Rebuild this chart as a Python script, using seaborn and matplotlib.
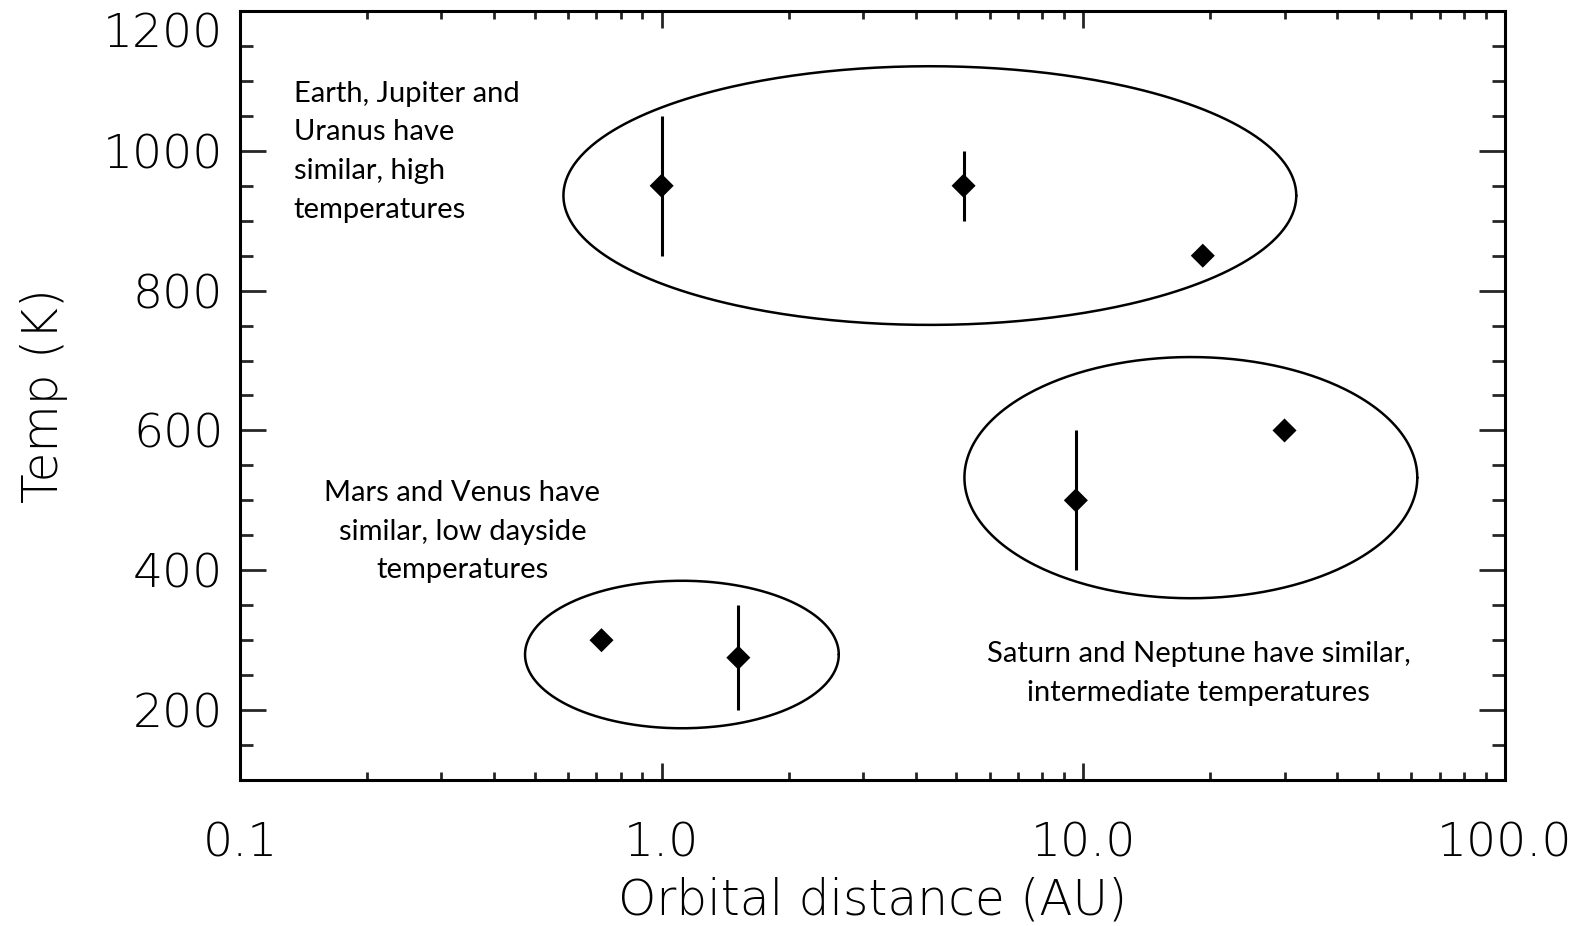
import numpy as np
import matplotlib
matplotlib.use("Agg")
import matplotlib.pyplot as plt
import matplotlib.transforms as mtransforms
import seaborn as sns
import pandas as pd
from matplotlib.ticker import FixedLocator, NullFormatter

# ---------------- data ----------------
planets = ["Venus", "Mars", "Earth", "Jupiter", "Uranus", "Saturn", "Neptune"]
orbital_au = [0.72, 1.52, 1.0, 5.2, 19.2, 9.6, 30.0]
temp_k = [300, 275, 950, 950, 850, 500, 600]
temp_err = [0, 75, 100, 50, 0, 100, 0]

# ellipses: (centre log10 AU, half-width in log10 AU, centre K, half-height K)
ell_logx_c = [0.636, 0.048, 1.255]
ell_logx_r = [0.869, 0.372, 0.537]
ell_y_c = [936, 279.5, 532.5]
ell_y_r = [185, 105.5, 172.5]

notes = [
    "Earth, Jupiter and\nUranus have\nsimilar, high\ntemperatures",
    "Mars and Venus have\nsimilar, low dayside\ntemperatures",
    "Saturn and Neptune have similar,\nintermediate temperatures",
]
note_x = [0.134, 0.337, 18.8]
note_y = [1070, 499, 268.6]
note_ha = ["left", "center", "center"]

xticks = [0.1, 1.0, 10.0, 100.0]
xticklabels = ["0.1", "1.0", "10.0", "100.0"]
yticks = [200, 400, 600, 800, 1000, 1200]
yticklabels = ["200", "400", "600", "800", "1000", "1200"]

# ---------------- style ----------------
sns.set_theme(style="white")
plt.rcParams["font.family"] = ["DejaVu Sans"]

fig = plt.figure(figsize=(15.92, 9.26), dpi=100)
ax = fig.add_axes([240 / 1592, 1 - 780 / 926, 1265 / 1592, 769 / 926])

df = pd.DataFrame({"planet": planets, "au": orbital_au, "temp": temp_k, "err": temp_err})

# error bars
has_err = df[df["err"] > 0]
ax.errorbar(has_err["au"], has_err["temp"], yerr=has_err["err"], fmt="none",
            ecolor="black", elinewidth=2.2, capsize=0, zorder=2)

sns.scatterplot(data=df, x="au", y="temp", marker="D", s=150, color="black",
                edgecolor="none", linewidth=0, ax=ax, zorder=3, legend=False)

# ellipses
t = np.linspace(0, 2 * np.pi, 400)
for cx, rx, cy, ry in zip(ell_logx_c, ell_logx_r, ell_y_c, ell_y_r):
    ax.plot(10 ** (cx + rx * np.cos(t)), cy + ry * np.sin(t), color="black", lw=1.8, zorder=1)

# annotations
pitch_pt = 27.8
for txt, x, y, ha in zip(notes, note_x, note_y, note_ha):
    for i, line in enumerate(txt.split("\n")):
        ax.annotate(line, xy=(x, y), xytext=(0, -i * pitch_pt), textcoords="offset points",
                    ha=ha, va="baseline", fontsize=21, family="Lato", color="black")

ax.set_xscale("log")
ax.set_xlim(0.1, 100)
ax.set_ylim(100, 1200)

ax.xaxis.set_major_locator(FixedLocator(xticks))
ax.set_xticklabels(xticklabels)
minor_x = [m * 10.0 ** e for e in (-1, 0, 1) for m in range(2, 10)]
ax.xaxis.set_minor_locator(FixedLocator(minor_x))
ax.xaxis.set_minor_formatter(NullFormatter())
ax.yaxis.set_major_locator(FixedLocator(yticks))
ax.set_yticklabels(yticklabels)
ax.yaxis.set_minor_locator(FixedLocator(np.arange(100, 1201, 50)))

ax.tick_params(axis="x", which="major", direction="in", length=12, width=2, top=True, bottom=True, pad=30)
ax.tick_params(axis="x", which="minor", direction="in", length=6, width=2, top=True, bottom=True)
ax.tick_params(axis="y", which="major", direction="in", length=19, width=2, left=True, right=True, pad=12)
ax.tick_params(axis="y", which="minor", direction="in", length=9.5, width=2, left=True, right=True)

for lab in ax.get_xticklabels() + ax.get_yticklabels():
    lab.set_fontsize(34)
    lab.set_fontweight(200)
    lab.set_color("black")

for sp in ax.spines.values():
    sp.set_visible(True)
    sp.set_color("black")
    sp.set_linewidth(2.2)

ax.set_xlabel("Orbital distance (AU)", fontsize=35, fontweight=200, labelpad=8, color="black")
ax.set_ylabel("Temp (K)", fontsize=35, fontweight=200, labelpad=25, color="black")
ax.grid(False)

# top y label sits lower so it stays inside the figure (as in the original)
fig.canvas.draw()
top_tick = ax.yaxis.get_major_ticks()[-1]
top_tick.label1.set_transform(top_tick.label1.get_transform() +
                              mtransforms.ScaledTranslation(0, -19 / 100, fig.dpi_scale_trans))

fig.savefig("out.png", dpi=100, facecolor="white")
